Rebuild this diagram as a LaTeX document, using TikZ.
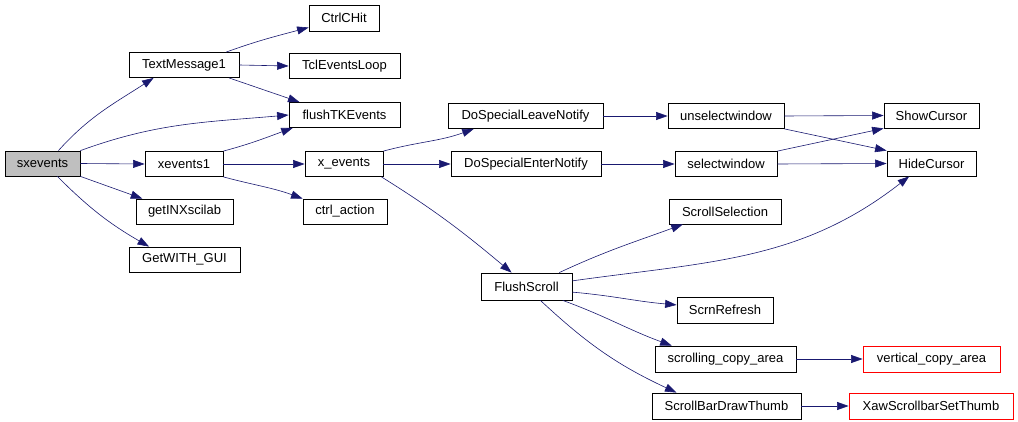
\documentclass[tikz,border=0pt]{standalone}
\usepackage{fontspec}
\setmainfont{Liberation Sans}
\usetikzlibrary{arrows.meta}
\definecolor{edgeblue}{RGB}{25,25,112}
\definecolor{grey75}{RGB}{191,191,191}

\begin{document}
\begin{tikzpicture}[x=1pt, y=1pt, font=\fontsize{13}{15}\selectfont]
\tikzstyle{fn}=[rectangle, draw=black, line width=0.8pt, fill=white, minimum height=25pt, inner sep=0pt, align=center]
\tikzstyle{call}=[-{Triangle[length=11.5pt,width=8pt]}, draw=edgeblue, line width=0.6pt]
\useasboundingbox (0,0) rectangle (1018,-422);
% callers
\node (sxevents) [fn, minimum width=75pt, fill=grey75] at (42.5,-163.5) {sxevents};
\node (TextMessage1) [fn, minimum width=110pt] at (184,-65) {TextMessage1};
\node (xevents1) [fn, minimum width=78pt] at (184,-164) {xevents1};
\node (getINXscilab) [fn, minimum width=97pt] at (184.5,-211.5) {getINXscilab};
\node (GetWithGui) [fn, minimum width=111pt] at (184.5,-259.5) {GetWITH\_GUI};
\node (CtrlCHit) [fn, minimum width=70pt, minimum height=26pt] at (344,-18) {CtrlCHit};
\node (TclEventsLoop) [fn, minimum width=111pt] at (344.5,-66) {TclEventsLoop};
\node (flushTKEvents) [fn, minimum width=111pt] at (344.5,-115) {flushTKEvents};
\node (xEvents) [fn, minimum width=78pt] at (344,-164) {x\_events};
\node (ctrlAction) [fn, minimum width=84pt] at (345,-211.5) {ctrl\_action};
% x_events callees
\node (DoSpecialLeaveNotify) [fn, minimum width=155pt] at (525.5,-116) {DoSpecialLeaveNotify};
\node (DoSpecialEnterNotify) [fn, minimum width=150pt] at (526,-164) {DoSpecialEnterNotify};
\node (FlushScroll) [fn, minimum width=91pt, minimum height=27pt] at (526.5,-286.5) {FlushScroll};
\node (unselectwindow) [fn, minimum width=116pt] at (726,-116) {unselectwindow};
\node (selectwindow) [fn, minimum width=102pt] at (726,-164) {selectwindow};
\node (ScrollSelection) [fn, minimum width=112pt] at (725,-211.5) {ScrollSelection};
\node (ScrnRefresh) [fn, minimum width=96pt, minimum height=26pt] at (725,-310) {ScrnRefresh};
\node (scrollingCopyArea) [fn, minimum width=141pt, minimum height=26pt] at (725.5,-359) {scrolling\_copy\_area};
\node (ScrollBarDrawThumb) [fn, minimum width=149pt, minimum height=26pt] at (726.5,-406) {ScrollBarDrawThumb};
\node (ShowCursor) [fn, minimum width=95pt] at (931.5,-115.5) {ShowCursor};
\node (HideCursor) [fn, minimum width=89pt] at (931.5,-163.5) {HideCursor};
\node (verticalCopyArea) [fn, minimum width=137pt, minimum height=26pt, draw=red] at (931.5,-359) {vertical\_copy\_area};
\node (XawScrollbarSetThumb) [fn, minimum width=164pt, minimum height=26pt, draw=red] at (931,-406) {XawScrollbarSetThumb};
% calls
\draw[call] (sxevents.39) to[out=48, in=213] (TextMessage1.203);
\draw[call] (sxevents.north east) to[out=20, in=185] (flushTKEvents.west);
\draw[call] (sxevents.east) -- (xevents1.west);
\draw[call] (sxevents.south east) -- (getINXscilab.163);
\draw[call] (sxevents.319) to[out=-45, in=150] (GetWithGui.160);
\draw[call] (TextMessage1.17) to[out=20, in=195] (CtrlCHit.195);
\draw[call] (TextMessage1.east) -- (TclEventsLoop.west);
\draw[call] (TextMessage1.344) -- (flushTKEvents.164);
\draw[call] (xevents1.north east) to[out=15, in=200] (flushTKEvents.194);
\draw[call] (xevents1.east) -- (xEvents.west);
\draw[call] (xevents1.south east) to[out=-15, in=160] (ctrlAction.north west);
\draw[call] (xEvents.north east) to[out=15, in=200] (DoSpecialLeaveNotify.194);
\draw[call] (xEvents.east) -- (DoSpecialEnterNotify.west);
\draw[call] (xEvents.341) to[out=-32, in=140] (FlushScroll.137);
\draw[call] (DoSpecialLeaveNotify.east) -- (unselectwindow.west);
\draw[call] (DoSpecialEnterNotify.east) -- (selectwindow.west);
\draw[call] (unselectwindow.east) -- (ShowCursor.west);
\draw[call] (unselectwindow.south east) -- (HideCursor.north west);
\draw[call] (selectwindow.north east) -- (ShowCursor.south west);
\draw[call] (selectwindow.east) -- (HideCursor.west);
\draw[call] (FlushScroll.23) to[out=25, in=200] (ScrollSelection.197);
\draw[call] (FlushScroll.7) to[out=8, in=218] (HideCursor.210);
\draw[call] (FlushScroll.353) to[out=-5, in=175] (ScrnRefresh.174);
\draw[call] (FlushScroll.339) to[out=-20, in=160] (scrollingCopyArea.166);
\draw[call] (FlushScroll.315) to[out=-43, in=155] (ScrollBarDrawThumb.165);
\draw[call] (scrollingCopyArea.east) -- (verticalCopyArea.west);
\draw[call] (ScrollBarDrawThumb.east) -- (XawScrollbarSetThumb.west);
\end{tikzpicture}
\end{document}
